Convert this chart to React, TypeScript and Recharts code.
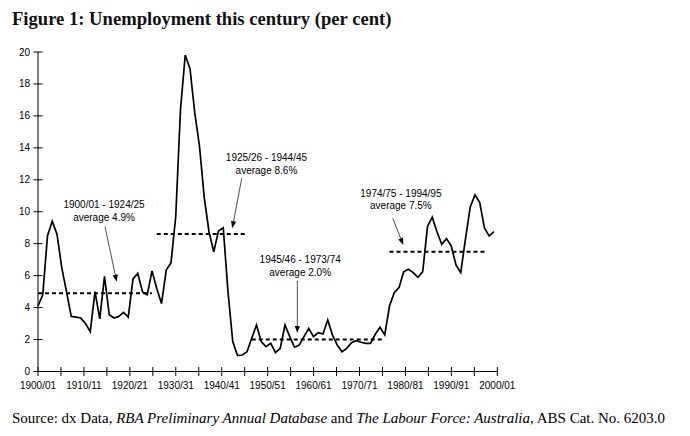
import React from 'react';
import { LineChart, Line, XAxis, YAxis, ReferenceLine, ReferenceDot } from 'recharts';

// Unemployment rate (per cent), financial years from 1900/01
const unemployment: number[] = [
  4.1, 4.8, 8.5, 9.4, 8.6, 6.5, 5.0, 3.45, 3.4, 3.35,
  3.0, 2.5, 5.0, 3.3, 5.95, 3.55, 3.35, 3.45, 3.7, 3.4,
  5.8, 6.15, 5.0, 4.8, 6.3, 5.2, 4.25, 6.35, 6.8, 9.7,
  16.4, 19.8, 18.95, 16.2, 14.1, 10.9, 8.75, 7.5, 8.8, 9.0,
  5.0, 1.87, 1.0, 1.03, 1.24, 2.08, 2.91, 1.87, 1.55, 1.76,
  1.18, 1.45, 2.91, 2.18, 1.52, 1.66, 2.18, 2.7, 2.18, 2.43,
  2.35, 3.22, 2.28, 1.66, 1.24, 1.45, 1.8, 1.93, 1.83, 1.76,
  1.76, 2.33, 2.77, 2.29, 4.1, 4.93, 5.25, 6.25, 6.4, 6.19,
  5.9, 6.25, 9.07, 9.66, 8.75, 7.96, 8.32, 7.86, 6.67, 6.19,
  8.3, 10.3, 11.05, 10.57, 8.97, 8.48, 8.75,
];

const FIRST_YEAR = 1900;
const categories: string[] = unemployment.map(
  (_, i) => `${FIRST_YEAR + i}/${String((FIRST_YEAR + i + 1) % 100).padStart(2, '0')}`
);

const xTickLabels: string[] = [
  '1900/01', '', '1910/11', '', '1920/21', '', '1930/31', '', '1940/41', '', '1950/51',
  '', '1960/61', '', '1970/71', '', '1980/81', '', '1990/91', '', '2000/01',
];
const yTicks: number[] = [0, 2, 4, 6, 8, 10, 12, 14, 16, 18, 20];

const periodFrom: string[] = ['1900/01', '1925/26', '1945/46', '1974/75'];
const periodTo: string[] = ['1924/25', '1944/45', '1973/74', '1994/95'];
const periodAvg: number[] = [4.9, 8.6, 2.0, 7.5];

// annotation placement (data coordinates): text anchor and arrow from/to
const annoText = [
  { x: 13.9, y: 10.43 },
  { x: 48.1, y: 13.37 },
  { x: 55.2, y: 6.98 },
  { x: 76.4, y: 11.16 },
];
const annoArrow = [
  { x1: 14.1, y1: 9.07, x2: 16.57, y2: 5.62 },
  { x1: 42.9, y1: 12.1, x2: 40.9, y2: 8.97 },
  { x1: 54.6, y1: 5.67, x2: 54.6, y2: 2.41 },
  { x1: 74.7, y1: 9.59, x2: 76.9, y2: 7.92 },
];

const X_MAX = 96.7;
const xTicks = xTickLabels.map((_, k) => (k * X_MAX) / (xTickLabels.length - 1));

const data = unemployment.map((v, i) => ({ i, year: categories[i], v }));

const SANS = '"Liberation Sans", Arial, sans-serif';
const SERIF = '"Liberation Serif", "Times New Roman", serif';

const YTick = (props: any) => {
  const { x, y, payload } = props;
  return (
    <g>
      <line x1={x - 4.5} x2={x + 4.5} y1={y} y2={y} stroke="#000" strokeWidth={1} />
      <text x={x - 8} y={y} textAnchor="end" dominantBaseline="central" fontSize={10} fontFamily={SANS} fill="#000">
        {payload.value}
      </text>
    </g>
  );
};

const XTick = (props: any) => {
  const { x, y, index } = props;
  return (
    <g>
      <line x1={x} x2={x} y1={y - 4.5} y2={y + 4.5} stroke="#000" strokeWidth={1} />
      <text x={x} y={y + 13.5} textAnchor="middle" dominantBaseline="central" fontSize={10} fontFamily={SANS} fill="#000">
        {xTickLabels[index]}
      </text>
    </g>
  );
};

const Arrow = (props: any) => {
  const { x1, y1, x2, y2 } = props;
  const dx = x2 - x1;
  const dy = y2 - y1;
  const len = Math.sqrt(dx * dx + dy * dy) || 1;
  const ux = dx / len;
  const uy = dy / len;
  const hl = 7;
  const hw = 2.6;
  const bx = x2 - ux * hl;
  const by = y2 - uy * hl;
  return (
    <g>
      <line x1={x1} y1={y1} x2={bx} y2={by} stroke="#222" strokeWidth={0.8} />
      <polygon
        points={`${x2},${y2} ${bx - uy * hw},${by + ux * hw} ${bx + uy * hw},${by - ux * hw}`}
        fill="#000"
      />
    </g>
  );
};

const makeLabel = (k: number) => (p: any) => (
  <text x={p.cx} y={p.cy} textAnchor="middle" fontSize={10} fontFamily={SANS} fill="#000">
    <tspan x={p.cx} dominantBaseline="central">{`${periodFrom[k]} - ${periodTo[k]}`}</tspan>
    <tspan x={p.cx} dy={12.5} dominantBaseline="central">{`average ${periodAvg[k].toFixed(1)}%`}</tspan>
  </text>
);

export default function App() {
  return (
    <div style={{ position: 'absolute', left: 0, top: 0, width: 690, height: 436, background: '#fff' }}>
      <LineChart
        width={690}
        height={436}
        data={data}
        margin={{ top: 52, right: 192.7, left: 0, bottom: 34.5 }}
      >
        <XAxis
          type="number"
          dataKey="i"
          domain={[0, X_MAX]}
          ticks={xTicks}
          interval={0}
          height={30}
          tickSize={0}
          tickMargin={0}
          tickLine={false}
          axisLine={{ stroke: '#000', strokeWidth: 1 }}
          tick={<XTick />}
          allowDecimals
        />
        <YAxis
          type="number"
          domain={[0, 20]}
          ticks={yTicks}
          interval={0}
          width={38}
          tickSize={0}
          tickMargin={0}
          tickLine={false}
          axisLine={{ stroke: '#000', strokeWidth: 1 }}
          tick={<YTick />}
        />
        {periodAvg.map((avg, k) => (
          <ReferenceLine
            key={`avg${k}`}
            segment={[
              { x: categories.indexOf(periodFrom[k]), y: avg },
              { x: categories.indexOf(periodTo[k]), y: avg },
            ]}
            stroke="#000"
            strokeWidth={2}
            strokeDasharray="4 3"
          />
        ))}
        <Line
          type="linear"
          dataKey="v"
          stroke="#000"
          strokeWidth={1.7}
          dot={false}
          isAnimationActive={false}
        />
        {annoArrow.map((a, k) => (
          <ReferenceLine
            key={`arr${k}`}
            segment={[{ x: a.x1, y: a.y1 }, { x: a.x2, y: a.y2 }]}
            shape={(p: any) => <Arrow {...p} />}
          />
        ))}
        {annoText.map((t, k) => (
          <ReferenceDot key={`txt${k}`} x={t.x} y={t.y} r={1} shape={makeLabel(k)} />
        ))}
      </LineChart>
      <svg width={690} height={436} style={{ position: 'absolute', left: 0, top: 0, pointerEvents: 'none' }}>
        <text x={12} y={25} fontFamily={SERIF} fontSize={18.6} fontWeight="bold" fill="#111">
          Figure 1: Unemployment this century (per cent)
        </text>
        <text x={12} y={423} fontFamily={SERIF} fontSize={15} fill="#000">
          <tspan>Source: dx Data, </tspan>
          <tspan fontStyle="italic">RBA Preliminary Annual Database</tspan>
          <tspan> and </tspan>
          <tspan fontStyle="italic">The Labour Force: Australia</tspan>
          <tspan>, ABS Cat. No. 6203.0</tspan>
        </text>
      </svg>
    </div>
  );
}
